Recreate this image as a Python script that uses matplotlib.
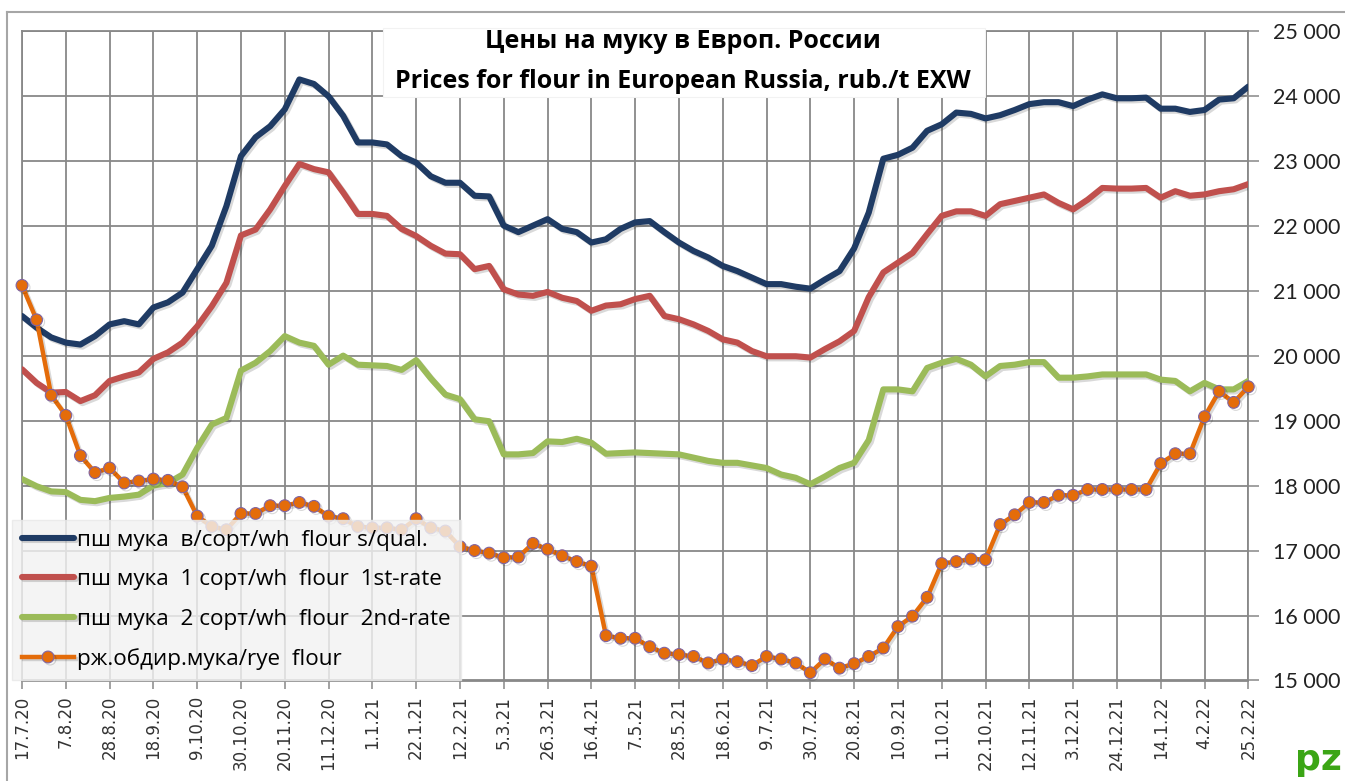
import matplotlib.pyplot as plt
import matplotlib.patheffects as pe
from matplotlib.lines import Line2D
from matplotlib.patches import Rectangle
from matplotlib.ticker import FuncFormatter, MultipleLocator

# weekly quotes, 17.7.20 ... 25.2.22 (85 weeks)
wheat_top = [20610, 20430, 20280, 20200, 20170, 20300, 20480, 20530, 20480, 20740,
             20820, 20970, 21330, 21690, 22300, 23070, 23360, 23530, 23790, 24250,
             24180, 23990, 23690, 23280, 23280, 23250, 23070, 22970, 22760, 22660,
             22660, 22460, 22450, 22000, 21900, 22000, 22100, 21950, 21900, 21740,
             21790, 21950, 22050, 22070, 21900, 21740, 21610, 21510, 21380, 21300,
             21200, 21100, 21100, 21060, 21030, 21170, 21300, 21650, 22200, 23030,
             23090, 23200, 23460, 23560, 23740, 23720, 23650, 23700, 23780, 23870,
             23900, 23900, 23840, 23940, 24020, 23960, 23960, 23970, 23800, 23800,
             23750, 23780, 23940, 23960, 24140]
wheat_1st = [19790, 19580, 19430, 19440, 19300, 19390, 19610, 19680, 19740, 19950,
             20050, 20200, 20450, 20760, 21120, 21850, 21940, 22250, 22610, 22950,
             22870, 22820, 22510, 22180, 22180, 22150, 21950, 21840, 21690, 21570,
             21560, 21330, 21380, 21020, 20940, 20920, 20980, 20890, 20840, 20690,
             20770, 20790, 20870, 20920, 20610, 20560, 20480, 20380, 20250, 20200,
             20070, 19990, 19990, 19990, 19970, 20100, 20220, 20380, 20900, 21280,
             21430, 21580, 21870, 22150, 22220, 22220, 22150, 22330, 22380, 22430,
             22480, 22350, 22250, 22400, 22580, 22570, 22570, 22580, 22430, 22530,
             22460, 22480, 22530, 22560, 22640]
wheat_2nd = [18100, 17990, 17910, 17900, 17780, 17760, 17810, 17830, 17860, 18000,
             18040, 18170, 18580, 18940, 19040, 19770, 19890, 20070, 20300, 20200,
             20150, 19860, 20000, 19860, 19850, 19840, 19780, 19930, 19650, 19400,
             19330, 19020, 18990, 18480, 18480, 18500, 18680, 18670, 18720, 18660,
             18490, 18500, 18510, 18500, 18490, 18480, 18430, 18380, 18350, 18350,
             18310, 18270, 18170, 18120, 18020, 18140, 18270, 18350, 18700, 19480,
             19480, 19450, 19810, 19890, 19950, 19860, 19680, 19840, 19860, 19900,
             19900, 19660, 19660, 19680, 19710, 19710, 19710, 19710, 19630, 19610,
             19450, 19580, 19480, 19480, 19610]
rye = [21080, 20550, 19390, 19080, 18460, 18200, 18270, 18040, 18070, 18100,
       18080, 17980, 17530, 17370, 17320, 17570, 17570, 17690, 17690, 17740,
       17680, 17530, 17490, 17370, 17350, 17350, 17320, 17490, 17350, 17300,
       17060, 17000, 16960, 16890, 16900, 17110, 17020, 16920, 16830, 16760,
       15690, 15650, 15650, 15520, 15420, 15400, 15370, 15270, 15330, 15290,
       15230, 15370, 15330, 15270, 15120, 15330, 15190, 15260, 15370, 15500,
       15830, 15990, 16280, 16800, 16830, 16870, 16860, 17400, 17550, 17740,
       17740, 17850, 17850, 17940, 17940, 17940, 17940, 17940, 18340, 18490,
       18490, 19060, 19450, 19280, 19520]

tick_labels = ['17.7.20', '7.8.20', '28.8.20', '18.9.20', '9.10.20', '30.10.20',
               '20.11.20', '11.12.20', '1.1.21', '22.1.21', '12.2.21', '5.3.21',
               '26.3.21', '16.4.21', '7.5.21', '28.5.21', '18.6.21', '9.7.21',
               '30.7.21', '20.8.21', '10.9.21', '1.10.21', '22.10.21', '12.11.21',
               '3.12.21', '24.12.21', '14.1.22', '4.2.22', '25.2.22']

labels = ['пш мука  в/сорт/wh  flour s/qual.',
          'пш мука  1 сорт/wh  flour  1st-rate',
          'пш мука  2 сорт/wh  flour  2nd-rate',
          'рж.обдир.мука/rye  flour']

W, H = 1345, 781
fig = plt.figure(figsize=(W / 100, H / 100), dpi=100)
ax = fig.add_axes([22 / W, 1 - 680.5 / H, (1248.3 - 22) / W, (680.5 - 30.7) / H])

weeks = list(range(len(rye)))
shadow = [pe.SimpleLineShadow(offset=(1.5, -1.5), alpha=0.15), pe.Normal()]

ax.plot(weeks, wheat_top, color='#1F3B64', lw=4.4, label=labels[0], zorder=4,
        solid_capstyle='round', solid_joinstyle='round', path_effects=shadow)
ax.plot(weeks, wheat_1st, color='#C0504D', lw=4.4, label=labels[1], zorder=4,
        solid_capstyle='round', solid_joinstyle='round', path_effects=shadow)
ax.plot(weeks, wheat_2nd, color='#9BBB59', lw=4.4, label=labels[2], zorder=4,
        solid_capstyle='round', solid_joinstyle='round', path_effects=shadow)
ax.plot(weeks, rye, color='#E46C0A', lw=3.2, marker='o', ms=8.5,
        mfc='#E46C0A', mec='#8064A2', mew=0.8, label=labels[3], zorder=5,
        solid_joinstyle='round', clip_on=False, path_effects=shadow)

ax.set_xlim(0, 84)
ax.set_ylim(15000, 25000)
ax.set_xticks(range(0, 85, 3))
ax.set_xticklabels(tick_labels, rotation=90, fontsize=12, family='DejaVu Sans',
                   color='#333333')
ax.yaxis.set_major_locator(MultipleLocator(1000))
ax.yaxis.set_major_formatter(FuncFormatter(lambda v, p: f'{v:,.0f}'.replace(',', ' ')))
ax.yaxis.tick_right()
for lab in ax.get_yticklabels():
    lab.set_family('Lato')
    lab.set_fontsize(15.5)
    lab.set_color('#222222')
ax.tick_params(axis='x', length=6, width=1.1, color='#888888', pad=5, direction='out')
ax.tick_params(axis='y', length=8, width=1.1, color='#888888', pad=10, direction='out')

ax.grid(True, color='#888888', lw=1.3, zorder=0)
ax.set_axisbelow(True)
for s in ax.spines.values():
    s.set_color('#888888')
    s.set_linewidth(1.3)

# outer chart frame (cropped on right and bottom)
fig.add_artist(Line2D([7 / W, 7 / W], [0, 1 - 12 / H], color='#a6a6a6', lw=1.5))
fig.add_artist(Line2D([7 / W, 1], [1 - 12 / H, 1 - 12 / H], color='#a6a6a6', lw=1.5))

# title on a white box over the grid
fig.add_artist(Rectangle((383 / W, 1 - 97 / H), (985 - 383) / W, (97 - 28) / H,
                         transform=fig.transFigure, facecolor='white',
                         edgecolor='#f2f2f2', lw=0.8, zorder=3))
fig.text(683 / W, 1 - 41 / H, 'Цены на муку в Европ. России', ha='center', va='center',
         fontsize=18, fontweight='bold', family='Open Sans', zorder=6)
fig.text(683 / W, 1 - 82 / H, 'Prices for flour in European Russia, rub./t EXW',
         ha='center', va='center', fontsize=18, fontweight='bold', family='Open Sans', zorder=6)

leg = ax.legend(loc='lower left', bbox_to_anchor=(12 / W, 1 - 680 / H),
                bbox_transform=fig.transFigure, borderaxespad=0, numpoints=1,
                labelspacing=0.82, handlelength=2.3, handletextpad=0.15,
                borderpad=0.45, fancybox=False, facecolor='#f2f2f2', edgecolor='#e8e8e8',
                framealpha=0.82, prop={'family': 'Open Sans', 'size': 16.2})
leg.set_zorder(10)

# logo
fig.text(1318 / W, 1 - 760 / H, 'pz', color='#3BA515', fontsize=26, fontweight='bold',
         family='DejaVu Sans', ha='center', va='center')

fig.savefig('out.png', dpi=100)
